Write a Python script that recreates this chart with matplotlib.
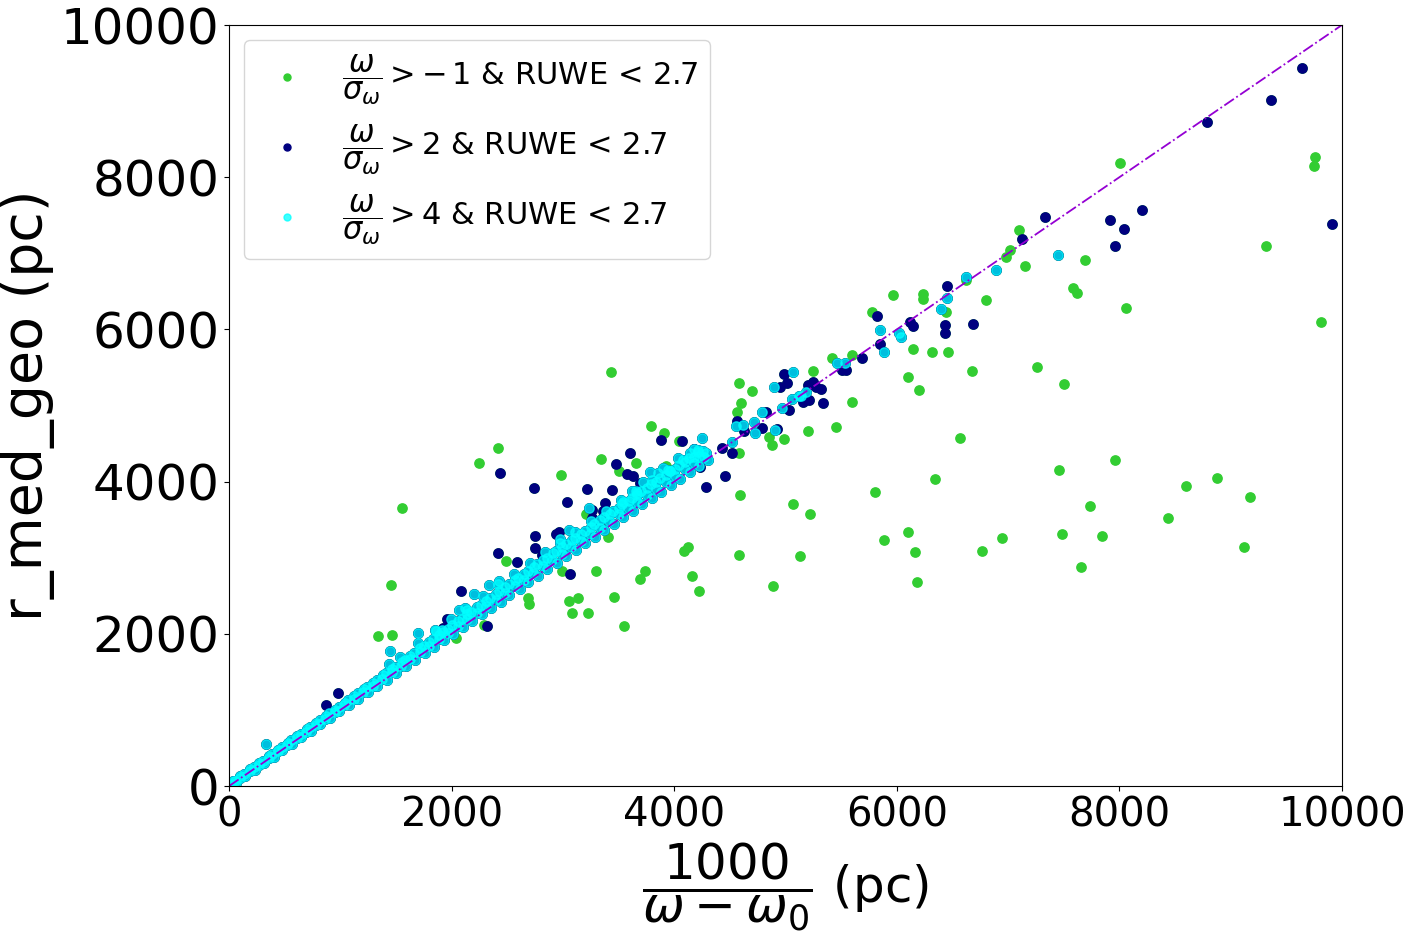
import numpy as np
import matplotlib
matplotlib.use("Agg")
import matplotlib.pyplot as plt

# stars with parallax_over_error > 4 (diagonal band + a few strays), in pc
hi_x = [
    # band, lower row
    60, 140, 230, 310, 400, 480, 570, 650, 740, 820, 910, 990, 1080, 1160, 1250, 1330,
    1420, 1500, 1590, 1670, 1760, 1840, 1930, 2010, 2100, 2180, 2270, 2350, 2440, 2520,
    2610, 2690, 2780, 2860, 2950, 3030, 3120, 3200, 3290, 3370, 3460, 3540, 3630, 3710,
    3800, 3880, 3970, 4050, 4140, 4220, 4300,
    # band, middle row
    20, 100, 185, 270, 355, 440, 525, 610, 695, 780, 865, 950, 1035, 1120, 1205, 1290,
    1375, 1460, 1545, 1630, 1715, 1800, 1885, 1970, 2055, 2140, 2225, 2310, 2395, 2480,
    2565, 2650, 2735, 2820, 2905, 2990, 3075, 3160, 3245, 3330, 3415, 3500, 3585, 3670,
    3755, 3840, 3925, 4010, 4095, 4180, 4265,
    # band, upper-middle row
    50, 135, 220, 305, 390, 475, 560, 645, 730, 815, 900, 985, 1070, 1155, 1240, 1325,
    1410, 1495, 1580, 1665, 1750, 1835, 1920, 2005, 2090, 2175, 2260, 2345, 2430, 2515,
    2600, 2685, 2770, 2855, 2940, 3025, 3110, 3195, 3280, 3365, 3450, 3535, 3620, 3705,
    3790, 3875, 3960, 4045, 4130, 4215,
    # band, upper row
    100, 190, 270, 360, 440, 530, 610, 700, 780, 870, 950, 1040, 1120, 1210, 1290, 1380,
    1460, 1550, 1630, 1720, 1800, 1890, 1970, 2060, 2140, 2230, 2310, 2400, 2480, 2570,
    2650, 2740, 2820, 2910, 2990, 3080, 3160, 3250, 3330, 3420, 3500, 3590, 3670, 3760,
    3840, 3930, 4010, 4100, 4180, 4260,
    # band, top edge
    1540, 1700, 1850, 1990, 2120, 2280, 2420, 2560, 2700, 2840, 2970, 3110, 3250, 3390,
    3520, 3660, 3800, 3940, 4080, 4210,
    # strays
    7449, 6891, 6622, 6451, 6397, 5849, 6020, 6038, 5885, 5463, 5535, 5184, 5139, 5068,
    4897, 5059, 5121, 4969, 4906, 4789, 4717, 4726, 4555, 4618, 4519, 4250, 4223, 4286,
    3235, 3055, 2974, 2426, 2336, 2201, 2067, 2138, 1698, 1860, 1914, 1447, 1438, 332,
    36, 3783, 3855, 3666, 3540, 3620, 3720, 3900, 3960, 4030, 4140, 4180,
]
hi_y = [
    45, 130, 215, 300, 385, 470, 555, 640, 725, 810, 895, 980, 1065, 1150, 1235, 1320,
    1400, 1490, 1575, 1660, 1745, 1830, 1915, 2000, 2085, 2170, 2255, 2340, 2425, 2510,
    2595, 2680, 2765, 2850, 2935, 3020, 3105, 3190, 3275, 3360, 3445, 3530, 3615, 3700,
    3785, 3870, 3955, 4040, 4125, 4210, 4290,
    25, 110, 195, 280, 365, 455, 540, 625, 710, 800, 885, 970, 1060, 1145, 1230, 1320,
    1405, 1495, 1580, 1670, 1755, 1840, 1930, 2015, 2105, 2190, 2280, 2365, 2450, 2540,
    2625, 2710, 2795, 2885, 2965, 3055, 3140, 3225, 3310, 3395, 3480, 3570, 3650, 3735,
    3820, 3905, 3990, 4075, 4160, 4245, 4330,
    70, 160, 250, 335, 425, 515, 605, 690, 780, 865, 955, 1045, 1130, 1220, 1305, 1395,
    1480, 1570, 1660, 1750, 1840, 1930, 2020, 2110, 2200, 2290, 2380, 2470, 2560, 2650,
    2735, 2825, 2915, 3000, 3090, 3180, 3265, 3355, 3440, 3530, 3615, 3705, 3790, 3880,
    3965, 4050, 4140, 4225, 4310, 4395,
    130, 220, 300, 395, 475, 570, 655, 745, 830, 920, 1005, 1095, 1180, 1275, 1360, 1455,
    1540, 1630, 1715, 1810, 1895, 1985, 2070, 2170, 2255, 2350, 2435, 2530, 2615, 2705,
    2790, 2880, 2965, 3060, 3140, 3235, 3315, 3405, 3490, 3580, 3660, 3750, 3830, 3920,
    4000, 4090, 4170, 4255, 4330, 4400,
    1700, 1880, 2050, 2200, 2340, 2500, 2650, 2790, 2930, 3080, 3200, 3340, 3480, 3620,
    3760, 3880, 4020, 4150, 4290, 4420,
    6977, 6780, 6688, 6412, 6268, 5992, 5952, 5900, 5703, 5558, 5558, 5177, 5125, 5440,
    5243, 5085, 5125, 4967, 4678, 4914, 4783, 4638, 4730, 4744, 4520, 4573, 4336, 4376,
    3653, 3364, 3246, 2694, 2641, 2523, 2313, 2313, 2010, 2037, 2050, 1774, 1603, 552,
    66, 4126, 4113, 3850, 3732, 3880, 3990, 4180, 4140, 4310, 4370, 4430,
]

# stars with 2 < parallax_over_error <= 4
mid_x = [
    9641, 9362, 8787, 8203, 7916, 8042, 7961, 9910, 7332, 7125, 6451, 6433, 6433, 6685,
    6119, 6146, 5822, 5849, 5688, 5508, 5544, 5202, 5247, 5274, 5319, 5157, 5211, 5337,
    3603, 3882, 4070, 4178, 3477, 3576, 3630, 3693, 3441, 3378, 3360, 3666, 4232, 4286,
    4457, 4430, 4519, 4564, 4627, 4789, 4825, 4924, 4951, 5014, 4987, 5032,
    2435, 2740, 3217, 3037, 3262, 3262, 3351, 2749, 2749, 2965, 2938, 2417, 2588, 2812,
    3064, 2085, 2462, 1959, 2318, 1923, 872, 979,
]
mid_y = [
    9435, 9014, 8725, 7569, 7437, 7319, 7096, 7385, 7477, 7188, 6570, 6058, 5952, 6071,
    6097, 6044, 6176, 5808, 5624, 5466, 5466, 5269, 5309, 5243, 5217, 5046, 5072, 5033,
    4376, 4546, 4533, 4428, 4231, 4100, 4073, 3981, 3889, 3719, 3614, 3837, 4192, 3929,
    4073, 4441, 4376, 4796, 4665, 4704, 4914, 4691, 5243, 5295, 5414, 4941,
    4113, 3916, 3903, 3732, 3627, 3522, 3508, 3285, 3127, 3338, 3311, 3062, 2943, 3035,
    2786, 2562, 2615, 2194, 2102, 2076, 1064, 1222,
]

# stars with -1 < parallax_over_error <= 2
lo_x = [
    8006, 9758, 9749, 9812, 9317, 8060, 7691, 7152, 7098, 7017, 6981, 7583, 7619, 6802,
    6622, 5966, 6236, 6236, 5777, 6442, 5418, 5598, 5247, 6146, 6316, 6460, 6676, 7260,
    7502, 6101, 6200, 5598, 5454, 5202, 6568, 7961, 7458, 6343, 5804, 8599, 8877, 9174,
    7736, 8437, 6945, 7485, 7844, 5885, 6101, 6164, 6766, 9120, 7655, 6182,
    3432, 3792, 3908, 4043, 4582, 4699, 4600, 4564, 4582, 3342, 3657, 3504, 3926, 4852,
    4879, 4987, 4591, 5068, 5220, 4088, 4124, 4582, 5130, 3405, 2417, 2246, 2983, 1554,
    3208, 2489, 2992, 3297, 3693, 1456, 2687, 2696, 3055, 3136, 3459, 3082, 3226, 3549,
    1465, 1339, 2291, 2040, 3738, 4160, 4223, 4888,
]
lo_y = [
    8186, 8265, 8147, 6097, 7096, 6281, 6912, 6833, 7306, 7043, 6951, 6544, 6478, 6386,
    6649, 6452, 6465, 6399, 6228, 6228, 5624, 5663, 5453, 5742, 5703, 5703, 5453, 5506,
    5282, 5374, 5203, 5046, 4717, 4665, 4573, 4284, 4152, 4034, 3863, 3942, 4047, 3797,
    3679, 3522, 3259, 3311, 3285, 3232, 3338, 3075, 3088, 3140, 2878, 2681,
    5440, 4730, 4638, 4533, 5295, 5190, 5033, 4914, 4376, 4297, 4244, 4139, 4205, 4586,
    4481, 4560, 3824, 3705, 3574, 3088, 3140, 3035, 3022, 3272, 4441, 4244, 4087, 3653,
    3574, 2957, 2825, 2825, 2720, 2641, 2470, 2391, 2431, 2470, 2483, 2273, 2273, 2102,
    1984, 1971, 2116, 1945, 2825, 2759, 2562, 2628,
]

one_to_one = [0, 10000]

labels = [
    r"$\dfrac{\omega}{\sigma_\omega} > -\,1$ & RUWE < 2.7",
    r"$\dfrac{\omega}{\sigma_\omega} > 2$ & RUWE < 2.7",
    r"$\dfrac{\omega}{\sigma_\omega} > 4$ & RUWE < 2.7",
]

# each cut is a subset of the looser one
all_x = lo_x + mid_x + hi_x
all_y = lo_y + mid_y + hi_y
cut2_x = mid_x + hi_x
cut2_y = mid_y + hi_y

fig = plt.figure(figsize=(14.13, 9.38), dpi=100)
ax = fig.add_axes([0.1621, 0.1620, 0.7876, 0.8113])

ax.scatter(all_x, all_y, s=45, color="limegreen", label=labels[0])
ax.scatter(cut2_x, cut2_y, s=45, color="navy", label=labels[1])
ax.scatter(hi_x, hi_y, s=45, color="cyan", alpha=0.75, label=labels[2])
ax.plot(one_to_one, one_to_one, color="darkviolet", linestyle="-.", linewidth=1.3)

ax.set_xlim(0, 10000)
ax.set_ylim(0, 10000)
ax.set_xticks([0, 2000, 4000, 6000, 8000, 10000])
ax.set_yticks([0, 2000, 4000, 6000, 8000, 10000])
ax.tick_params(axis="x", labelsize=29)
ax.tick_params(axis="y", labelsize=36)

ax.set_xlabel(r"$\dfrac{1000}{\omega - \omega_0}$ (pc)", fontsize=36)
ax.set_ylabel("r_med_geo (pc)", fontsize=40)

ax.legend(loc="upper left", fontsize=22, markerscale=0.75)

fig.savefig("out.png", dpi=100)
